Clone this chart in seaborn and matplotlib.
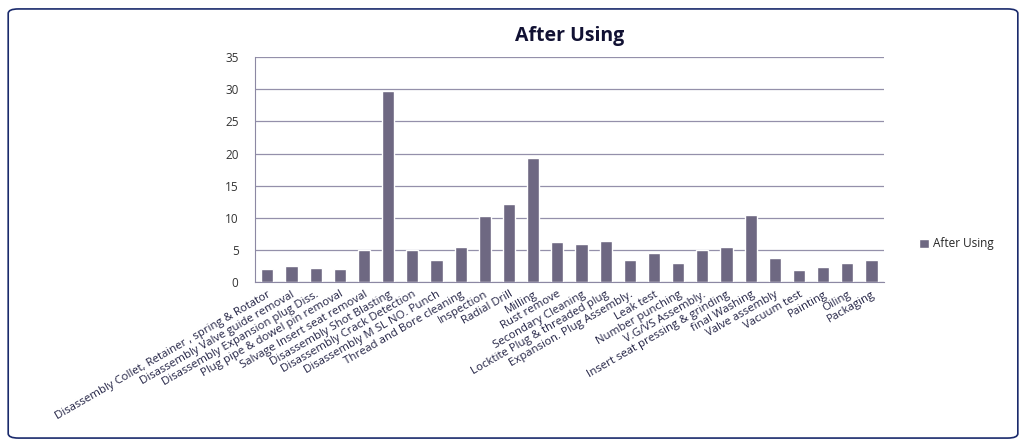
import pandas as pd
import matplotlib.pyplot as plt
import seaborn as sns
from matplotlib.patches import FancyBboxPatch

# data
steps = [
    "Disassembly Collet, Retainer , spring & Rotator",
    "Disassembly Valve guide removal",
    "Disassembly Expansion plug Diss.",
    "Plug pipe & dowel pin removal",
    "Salvage Insert seat removal",
    "Disassembly Shot Blasting",
    "Disassembly Crack Detection",
    "Disassembly M SL NO. Punch",
    "Thread and Bore cleaning",
    "Inspection",
    "Radial Drill",
    "Milling",
    "Rust remove",
    "Secondary Cleaning",
    "Locktite Plug & threaded plug",
    "Expansion. Plug Assembly.",
    "Leak test",
    "Number punching",
    "V.G/VS Assembly.",
    "Insert seat pressing & grinding",
    "final Washing",
    "Valve assembly",
    "Vacuum test",
    "Painting",
    "Oiling",
    "Packaging",
]
after_using = [2, 2.5, 2.2, 2, 5, 29.8, 5, 3.5, 5.5, 10.3, 12.1, 19.3, 6.3, 6,
               6.4, 3.5, 4.5, 3, 5, 5.5, 10.5, 3.8, 1.8, 2.3, 3, 3.5]

df = pd.DataFrame({"step": steps, "value": after_using})

sns.set_style("white")
plt.rcParams['font.family'] = ['Open Sans', 'DejaVu Sans']

fig = plt.figure(figsize=(10.25, 4.47), dpi=100)
ax = fig.add_axes([0.249, 0.369, 0.613, 0.503])

bar_color = "#6e6882"
sns.barplot(data=df, x="step", y="value", color=bar_color, width=0.5,
            label="After Using", ax=ax, saturation=1)

ax.set_ylim(0, 35)
ax.set_yticks(range(0, 36, 5))
ax.yaxis.grid(True, color="#9490aa", linewidth=0.9)
ax.set_axisbelow(True)
ax.set_xlabel("")
ax.set_ylabel("")
ax.set_xlim(-0.5, len(steps) - 0.5)

for s in ["top", "right"]:
    ax.spines[s].set_visible(False)
ax.spines["left"].set_color("#8c88a3")
ax.spines["bottom"].set_color("#8c88a3")

ax.tick_params(axis="y", labelsize=8.5, colors="#333333", length=0, pad=12)
ax.set_xticks([i - 0.5 for i in range(len(steps) + 1)], minor=True)
ax.tick_params(axis="x", which="minor", length=4, color="#8c88a3", direction="out")
ax.tick_params(axis="x", which="major", length=0, pad=5)
ax.set_xticks(range(len(steps)))
ax.set_xticklabels(steps, rotation=30, ha="right", rotation_mode="anchor",
                   fontsize=8.2, color="#222244")

ax.set_title("After Using", fontsize=14, fontweight="bold", color="#111133", pad=12)

leg = ax.legend(loc="center left", bbox_to_anchor=(1.04, 0.17), frameon=False,
                fontsize=8.5, handlelength=0.8, handleheight=0.8, handletextpad=0.4)

# chart frame
frame = FancyBboxPatch((0.008, 0.02), 0.985, 0.96, boxstyle="round,pad=0,rounding_size=0.01",
                       transform=fig.transFigure, fill=False, edgecolor="#1a2a6c",
                       linewidth=1.2)
fig.patches.append(frame)

fig.savefig("out.png", dpi=100)
